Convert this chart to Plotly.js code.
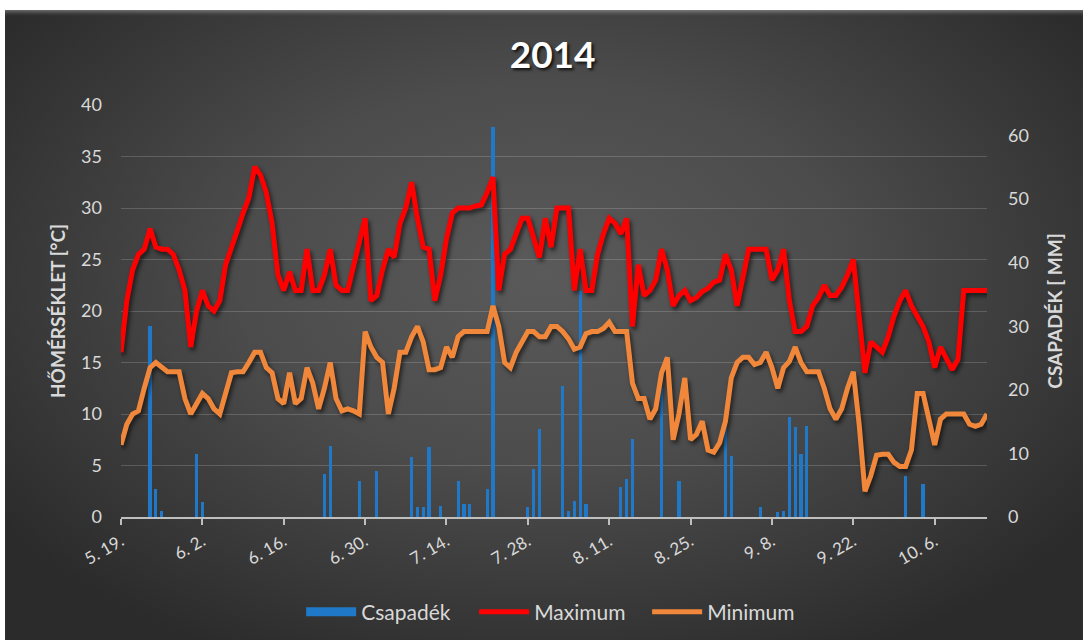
<!DOCTYPE html>
<html>
<head>
<meta charset="utf-8">
<script src="https://cdn.plot.ly/plotly-3.0.1.min.js"></script>
<style>
  html, body { margin: 0; padding: 0; background: #ffffff; }
  #frame {
    position: absolute; left: 5px; top: 10px; width: 1078px; height: 630px;
    background: radial-gradient(ellipse 62% 68% at 50% 42%, #5a5a5a 0%, #4c4c4c 45%, #363636 82%, #2b2b2b 100%);
    box-shadow: inset 0 5px 4px -3px rgba(255,255,255,0.35);
  }
  #chart { position: absolute; left: 0; top: 0; width: 1090px; height: 644px; }
  #chart .scatterlayer .trace .js-line { filter: drop-shadow(2px 3px 2px rgba(0,0,0,0.6)); }
</style>
</head>
<body>
<div id="frame"></div>
<div id="chart"></div>
<script>
// Daily weather record, 2014-05-19 .. 2014-10-15
const startDate = '2014-05-19';
const dayCount = 150;

// Daily maximum temperature [°C]
const maxTemp = [
  16, 21, 24, 25.5, 26, 28, 26.2, 26, 26, 25.5,
  24, 22, 16.5, 20, 22, 20.5, 20, 21, 24.5, 26,
  27.8, 29.5, 31, 34, 33.2, 31.5, 28.5, 23.5, 22, 23.8,
  22, 22, 26, 22, 22, 23.5, 26, 22.5, 22, 22,
  24.5, 26.5, 29, 21, 21.5, 24, 26, 25.2, 28.5, 30,
  32.5, 29, 26.2, 26, 21, 23.5, 27, 29.5, 30, 30,
  30, 30.2, 30.3, 31.5, 33, 22, 25.5, 26, 27.5, 29,
  29, 27, 25.2, 29, 26.2, 30, 30, 30, 22, 26,
  22, 22, 25.5, 27.5, 29, 28.5, 27.5, 29, 18.5, 24.5,
  21.5, 22, 23, 26, 24, 20.5, 21.5, 22, 21, 21.3,
  21.9, 22.2, 22.8, 23, 25.5, 24, 20.5, 23, 26, 26,
  26, 26, 23, 24, 26, 21, 18, 18, 18.5, 20.5,
  21.3, 22.5, 21.5, 21.5, 22.3, 23.5, 25, 19, 14, 17,
  16.5, 16, 17.5, 19.5, 21, 22, 20.5, 19.5, 18.5, 17,
  14.5, 16.5, 15.5, 14.3, 15.3, 22, 22, 22, 22, 22
];

// Daily minimum temperature [°C]
const minTemp = [
  7, 9, 10, 10.3, 12.5, 14.5, 15, 14.5, 14.1, 14.1,
  14.1, 11.5, 10, 11, 12, 11.5, 10.5, 10, 12, 14,
  14.1, 14.1, 15, 16, 16, 14.5, 14, 11.5, 11, 14,
  11, 11.5, 14.5, 13, 10.5, 12.5, 15, 11.5, 10.3, 10.5,
  10.3, 10, 18, 16.5, 15.5, 15, 10, 12.5, 16, 16,
  17.5, 18.5, 17, 14.3, 14.3, 14.5, 16.5, 15.5, 17.5, 18,
  18, 18, 18, 18, 20.5, 18.5, 15, 14.5, 16, 17,
  18, 18, 17.5, 17.5, 18.5, 18.5, 18, 17.3, 16.3, 16.5,
  17.8, 18, 18, 18.3, 18.9, 18, 18, 18, 13, 11.5,
  11.5, 9.5, 10.5, 14, 15.5, 7.5, 10, 13.5, 7.5, 8,
  9.3, 6.5, 6.3, 7.2, 9.3, 13.5, 15, 15.5, 15.5, 14.8,
  15, 16, 14.5, 12.5, 14.5, 15.1, 16.5, 15, 14.1, 14.1,
  14.1, 12.5, 10.5, 9.5, 10.5, 12.5, 14.1, 9, 2.5, 4,
  6, 6.1, 6.1, 5.3, 4.9, 4.9, 6.5, 12, 12, 9.5,
  7, 9.5, 10, 10, 10, 10, 9, 8.8, 9, 10
];

// Daily precipitation [mm]
const precip = [
  0, 0, 0, 0, 0, 30, 4.4, 1, 0, 0,
  0, 0, 0, 9.9, 2.3, 0, 0, 0, 0, 0,
  0, 0, 0, 0, 0, 0, 0, 0, 0, 0,
  0, 0, 0, 0, 0, 6.7, 11.2, 0, 0, 0,
  0, 5.7, 0, 0, 7.2, 0, 0, 0, 0, 0,
  9.4, 1.6, 1.6, 11, 0, 1.7, 0, 0, 5.7, 2,
  2, 0, 0, 4.4, 61.4, 0, 0, 0, 0, 0,
  1.6, 7.5, 13.8, 0, 0, 0, 20.6, 1, 2.5, 35.5,
  2, 0, 0, 0, 0, 0, 4.7, 6, 12.2, 0,
  0, 0, 0, 20.3, 0, 0, 5.7, 0, 0, 0,
  0, 0, 0, 0, 16.2, 9.6, 0, 0, 0, 0,
  1.6, 0, 0, 0.8, 1, 15.7, 14.1, 9.9, 14.3, 0,
  0, 0, 0, 0, 0, 0, 0, 0, 0, 0,
  0, 0, 0, 0, 0, 6.4, 0, 0, 5.2, 0,
  0, 0, 0, 0, 0, 0, 0, 0, 0, 0
];

// Axis ticks: every second week
const tickDates = ['2014-05-19', '2014-06-02', '2014-06-16', '2014-06-30', '2014-07-14', '2014-07-28',
                   '2014-08-11', '2014-08-25', '2014-09-08', '2014-09-22', '2014-10-06'];
const tickLabels = ['5. 19.', '6. 2.', '6. 16.', '6. 30.', '7. 14.', '7. 28.',
                    '8. 11.', '8. 25.', '9. 8.', '9. 22.', '10. 6.'];

const days = [];
const t0 = Date.parse(startDate + 'T00:00:00Z');
for (let i = 0; i < dayCount; i++) {
  days.push(new Date(t0 + i * 86400000).toISOString().slice(0, 10));
}

const FONT = 'Lato, "Open Sans", sans-serif';
const TXT = '#d9d9d9';
const BLUE = '#1f78c8';

const traces = [
  {
    name: 'Csapadék', type: 'bar', x: days, y: precip, yaxis: 'y',
    width: 0.55 * 86400000,
    marker: { color: BLUE },
    legendgroup: 'csap', showlegend: false
  },
  // legend key for the precipitation bars (wide flat swatch)
  {
    name: 'Csapadék', type: 'scatter', mode: 'lines', x: [null], y: [null], yaxis: 'y',
    line: { color: BLUE, width: 9 },
    legendgroup: 'csap', showlegend: true, hoverinfo: 'skip'
  },
  {
    name: 'Maximum', type: 'scatter', mode: 'lines', x: days, y: maxTemp, yaxis: 'y2',
    line: { color: '#ff0000', width: 5, shape: 'linear' }
  },
  {
    name: 'Minimum', type: 'scatter', mode: 'lines', x: days, y: minTemp, yaxis: 'y2',
    line: { color: '#f0873a', width: 5, shape: 'linear' }
  }
];

const layout = {
  width: 1090, height: 644,
  paper_bgcolor: 'rgba(0,0,0,0)',
  plot_bgcolor: 'rgba(0,0,0,0)',
  margin: { l: 121, r: 103, t: 105, b: 126 },
  font: { family: FONT, color: TXT, size: 18 },
  title: {
    text: '2014', x: 0.507, xanchor: 'center', y: 0.915, yanchor: 'middle',
    font: { family: FONT, size: 37, color: '#ffffff', weight: 'bold', shadow: '2px 2px 3px rgba(0,0,0,0.8)' }
  },
  showlegend: true,
  legend: {
    orientation: 'h', x: 0.208, xanchor: 'left', y: -0.228, yanchor: 'middle',
    font: { family: FONT, size: 21, color: TXT }, itemwidth: 50,
    entrywidth: 108, entrywidthmode: 'pixels',
    bgcolor: 'rgba(0,0,0,0)', traceorder: 'normal'
  },
  bargap: 0,
  xaxis: {
    type: 'date',
    range: ['2014-05-19', '2014-10-15'],
    tickmode: 'array', tickvals: tickDates, ticktext: tickLabels,
    tickangle: -30,
    ticks: 'outside', ticklen: 6, tickwidth: 2, tickcolor: '#bfbfbf',
    showline: true, linecolor: '#bfbfbf', linewidth: 2,
    showgrid: false, zeroline: false,
    tickfont: { family: FONT, size: 17, color: TXT },
    automargin: false
  },
  // precipitation, right side
  yaxis: {
    range: [0, 64.8], dtick: 10, side: 'right',
    showgrid: false, zeroline: false, showline: false, ticks: '',
    ticklabelstandoff: 20,
    tickfont: { family: FONT, size: 18, color: TXT },
    title: { text: 'CSAPADÉK [ MM]', standoff: 20, font: { family: FONT, size: 19, color: TXT, weight: 'bold' } },
    automargin: false
  },
  // temperature, left side
  yaxis2: {
    overlaying: 'y', side: 'left',
    range: [0, 40], dtick: 5,
    showgrid: true, gridcolor: 'rgba(255,255,255,0.17)', gridwidth: 1,
    zeroline: false, showline: false, ticks: '',
    ticklabelstandoff: 18,
    tickfont: { family: FONT, size: 18, color: TXT },
    title: { text: 'HŐMÉRSÉKLET [°C]', standoff: 10, font: { family: FONT, size: 19, color: TXT, weight: 'bold' } },
    automargin: false
  }
};

Plotly.newPlot('chart', traces, layout, { displayModeBar: false, staticPlot: true });
</script>
</body>
</html>
